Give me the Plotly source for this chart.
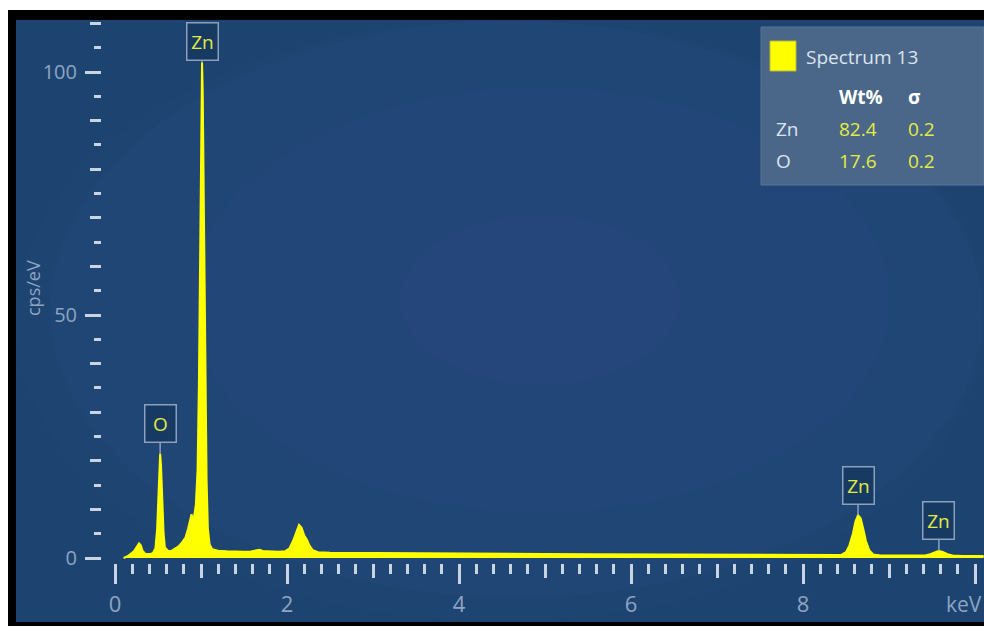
import plotly.graph_objects as go

# ---- data ----
energy_kev = [0.10, 0.14, 0.18, 0.22, 0.25, 0.28, 0.30, 0.32, 0.35, 0.40, 0.44, 0.47, 0.49, 0.505,
              0.515, 0.525, 0.535, 0.55, 0.565, 0.58, 0.62, 0.66, 0.70, 0.74, 0.78, 0.82, 0.85,
              0.875, 0.89, 0.905, 0.92, 0.94, 0.96, 0.975, 0.99, 1.005, 1.012, 1.02, 1.035,
              1.05, 1.065, 1.08, 1.10, 1.13, 1.20, 1.30, 1.40, 1.50, 1.58, 1.64, 1.68, 1.72,
              1.80, 1.90, 1.98, 2.03, 2.07, 2.11, 2.14, 2.17, 2.20, 2.23, 2.26, 2.30, 2.36,
              2.50, 2.80, 3.10, 3.50, 4.00, 4.50, 5.00, 5.50, 6.00, 6.50, 7.00, 7.50, 8.00,
              8.30, 8.44, 8.50, 8.54, 8.58, 8.61, 8.64, 8.67, 8.70, 8.73, 8.77, 8.82, 8.90,
              9.30, 9.42, 9.48, 9.53, 9.58, 9.63, 9.68, 9.74, 9.85, 10.10]
counts_cps = [0.0, 0.3, 0.8, 1.4, 2.2, 3.0, 2.6, 1.5, 0.9, 0.8, 1.0, 2.0, 6.0, 14.0,
              19.5, 21.5, 19.0, 12.0, 5.0, 2.2, 1.4, 1.5, 1.9, 2.4, 3.2, 4.2, 6.0,
              8.2, 9.0, 7.8, 8.5, 11.0, 18.0, 35.0, 70.0, 100.0, 102.0, 96.0, 70.0,
              38.0, 16.0, 6.0, 2.8, 1.8, 1.5, 1.4, 1.3, 1.3, 1.35, 1.6, 1.7, 1.45,
              1.35, 1.3, 1.4, 2.0, 3.5, 5.5, 6.8, 6.2, 4.6, 3.8, 2.6, 1.6, 1.2,
              1.1, 1.05, 1.0, 0.95, 0.9, 0.85, 0.8, 0.75, 0.7, 0.65, 0.6, 0.55, 0.5,
              0.5, 0.6, 1.2, 2.6, 5.0, 7.5, 8.8, 8.2, 6.0, 3.6, 1.6, 0.7, 0.5,
              0.45, 0.5, 0.8, 1.2, 1.5, 1.2, 0.8, 0.5, 0.4, 0.4]

peak_labels = ["O", "Zn", "Zn", "Zn"]
peak_energies = [0.525, 1.012, 8.64, 9.58]
peak_offsets = [-30, -21, -30, -30]

legend_title = "Spectrum 13"
table_elements = ["Zn", "O"]
table_wt = [82.4, 17.6]
table_sigma = [0.2, 0.2]

x_tick_vals = [0, 2, 4, 6, 8, 10]
x_tick_text = ["0", "2", "4", "6", "8", ""]
x_unit = "keV"
y_tick_vals = [0, 50, 100]

# ---- geometry helpers (pixel -> paper) ----
W, H = 984, 626
ML, MR, MT, MB = 102, 0, 20, 63
PW, PH = W - ML - MR, H - MT - MB


def px(x):
    return (x - ML) / PW


def py(y):
    return (H - MB - y) / PH


TICKCOL = "#c9d4e2"
LABCOL = "#8da4c2"
FONT = "Open Sans"

fig = go.Figure()
fig.add_trace(go.Scatter(
    x=energy_kev, y=counts_cps, mode="lines",
    line=dict(color="#ffff00", width=2),
    fill="tozeroy", fillcolor="#ffff00",
    hoverinfo="skip", showlegend=False,
))

# invisible trace to activate the extra tick axes
fig.add_trace(go.Scatter(x=[None], y=[None], xaxis="x2", yaxis="y2", showlegend=False))

shapes = []
# frame: white margin, black border, blue panel
shapes.append(dict(type="rect", xref="paper", yref="paper", x0=px(0), x1=px(W), y0=py(0), y1=py(10),
                   fillcolor="white", line_width=0, layer="below"))
shapes.append(dict(type="rect", xref="paper", yref="paper", x0=px(0), x1=px(8), y0=py(0), y1=py(H),
                   fillcolor="white", line_width=0, layer="below"))
shapes.append(dict(type="rect", xref="paper", yref="paper", x0=px(16), x1=px(W), y0=py(20), y1=py(622),
                   fillcolor="#1d4470", line_width=0, layer="below"))
# soft radial glow
cx, cy = 540, 300
for k in range(8):
    f = 1 - k / 8
    rx, ry = 560 * f, 340 * f
    shapes.append(dict(type="circle", xref="paper", yref="paper",
                       x0=px(max(16, cx - rx)), x1=px(min(W, cx + rx)),
                       y0=py(max(20, cy - ry)), y1=py(min(622, cy + ry)),
                       fillcolor="#3a6699", opacity=0.045, line_width=0, layer="below"))
# legend panel
shapes.append(dict(type="rect", xref="paper", yref="paper", x0=px(761), x1=px(W), y0=py(27), y1=py(185),
                   fillcolor="#4a6789", line=dict(color="#56759a", width=1), layer="above"))
shapes.append(dict(type="rect", xref="paper", yref="paper", x0=px(770), x1=px(796), y0=py(41), y1=py(71),
                   fillcolor="#ffff00", line=dict(color="#b8b830", width=1), layer="above"))

annotations = []
# peak callouts
for lab, e, off in zip(peak_labels, peak_energies, peak_offsets):
    near = [c for x, c in zip(energy_kev, counts_cps) if abs(x - e) < 0.05]
    ytop = max(near)
    annotations.append(dict(
        x=e, y=ytop, xref="x", yref="y", text=lab,
        showarrow=True, arrowhead=0, arrowwidth=1.5, arrowcolor="#8aa0bd",
        ax=0, ay=off, width=30, height=36,
        bgcolor="#173a63", bordercolor="#8aa0bd", borderwidth=1.5, borderpad=0,
        font=dict(family=FONT, size=19, color="#e2ea45"),
    ))


# legend texts
def txt(x, y, s, color, size=19, bold=False):
    annotations.append(dict(
        x=px(x), y=py(y), xref="paper", yref="paper", text=(f"<b>{s}</b>" if bold else s),
        showarrow=False, xanchor="left", yanchor="middle",
        font=dict(family=FONT, size=size, color=color),
    ))


txt(804, 57, legend_title, "#dce4ee")
txt(837, 97, "Wt%", "#ffffff", bold=True)
txt(906, 97, "σ", "#ffffff", bold=True)
for i, (el, wt, sg) in enumerate(zip(table_elements, table_wt, table_sigma)):
    yy = 129 + 32 * i
    txt(774, yy, el, "#dce4ee")
    txt(837, yy, f"{wt:.1f}", "#e4ec40")
    txt(906, yy, f"{sg:.1f}", "#e4ec40")

# unit label at the right end of the energy axis
annotations.append(dict(x=1, y=py(604), xref="paper", yref="paper", text=x_unit,
                        xanchor="right", yanchor="middle", showarrow=False,
                        font=dict(family=FONT, size=21, color=LABCOL)))

# y-axis title
annotations.append(dict(x=px(33), y=py(288), xref="paper", yref="paper", text="cps/eV",
                        xanchor="center", yanchor="middle",
                        showarrow=False, textangle=-90, font=dict(family=FONT, size=18, color=LABCOL)))

x_range = [(ML - 115) / 86, (W - 115) / 86]
y_range = [-(563 - 558) / 4.86, (558 - 20) / 4.86]

fig.update_layout(
    width=W, height=H, autosize=False,
    margin=dict(l=ML, r=MR, t=MT, b=MB, pad=0),
    paper_bgcolor="black", plot_bgcolor="rgba(0,0,0,0)",
    shapes=shapes, annotations=annotations,
    modebar=dict(bgcolor="rgba(0,0,0,0)", color="rgba(0,0,0,0)", activecolor="rgba(0,0,0,0)"),
    xaxis=dict(range=x_range, showgrid=False, zeroline=False, showline=False,
               tickmode="array", tickvals=x_tick_vals, ticktext=x_tick_text,
               ticks="outside", ticklen=20, tickwidth=3, tickcolor=TICKCOL,
               tickfont=dict(family=FONT, size=22, color=LABCOL), ticklabelstandoff=2,
               minor=dict(dtick=1, tick0=0, ticks="outside", ticklen=14, tickwidth=3, tickcolor=TICKCOL)),
    xaxis2=dict(range=x_range, overlaying="x", side="bottom", anchor="y", showgrid=False, zeroline=False,
                showline=False, showticklabels=False, dtick=0.2, tick0=0,
                ticks="outside", ticklen=10, tickwidth=2.5, tickcolor=TICKCOL),
    yaxis=dict(range=y_range, showgrid=False, zeroline=False, showline=False,
               tickmode="array", tickvals=y_tick_vals,
               ticks="outside", ticklen=16, tickwidth=3, tickcolor=TICKCOL,
               tickfont=dict(family=FONT, size=20, color=LABCOL), ticklabelstandoff=4,
               minor=dict(dtick=10, tick0=0, ticks="outside", ticklen=11, tickwidth=3, tickcolor=TICKCOL)),
    yaxis2=dict(range=y_range, overlaying="y", side="left", anchor="x", showgrid=False, zeroline=False,
                showline=False, showticklabels=False, dtick=5, tick0=0,
                ticks="outside", ticklen=7, tickwidth=3, tickcolor=TICKCOL),
)

fig.write_html(
    "out.html",
    config={"displayModeBar": False},
    post_script="document.body.style.margin='0';document.body.style.overflow='hidden';",
)
